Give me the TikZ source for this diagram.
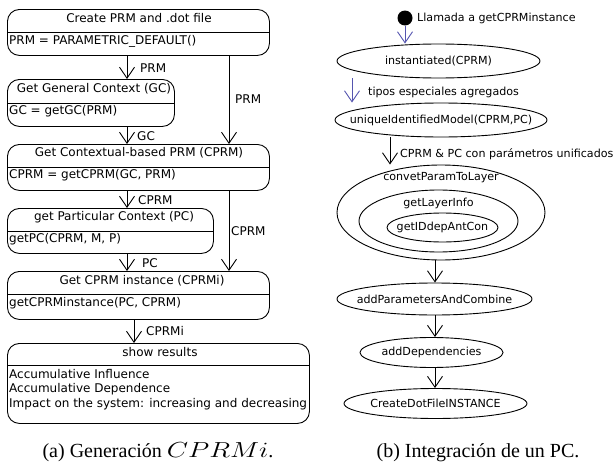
\documentclass[tikz,border=0pt]{standalone}
\usepackage{fontspec}
\setmainfont{Liberation Serif}
\newfontfamily\dv{DejaVu Sans}
\usetikzlibrary{arrows.meta,shapes.geometric}
\definecolor{blueline}{RGB}{85,85,175}
\tikzset{
  dvf/.style={font=\dv\fontsize{12}{14.5}\selectfont},
  dvr/.style={font=\dv\fontsize{11.1}{14}\selectfont},
  box/.style={draw, rounded corners=12pt, line width=0.9pt, anchor=north west, inner sep=0pt},
  lbl/.style={dvf, inner sep=0pt, anchor=west},
  rlbl/.style={dvr, inner sep=0pt, anchor=west},
  ttl/.style={dvf, inner sep=0pt},
  rttl/.style={dvr, inner sep=0pt},
  arr/.style={draw, line width=0.9pt, -{Straight Barb[length=11pt,width=15pt,line width=0.9pt]}},
  barr/.style={arr, draw=blueline},
  ell/.style={draw, ellipse, inner sep=0pt, line width=0.9pt},
  captxt/.style={font=\fontsize{20}{24}\selectfont, inner sep=0pt}
}
\begin{document}
\begin{tikzpicture}[x=1pt,y=-1pt]
\useasboundingbox (0,0) rectangle (614,463);
% ---------- left diagram ----------
\node[box, minimum width=262pt, minimum height=46pt] (b1) at (7,9) {};
\draw[line width=0.9pt] (7,32) -- (269,32);
\node[ttl] (t1) at (139,18) {Create PRM and .dot file};
\node[lbl] (s1) at (9,41) {PRM = PARAMETRIC\_DEFAULT()};

\node[box, minimum width=167pt, minimum height=47pt] (b2) at (7,79) {};
\draw[line width=0.9pt] (7,103) -- (174,103);
\node[ttl] (t2) at (94,89) {Get General Context (GC)};
\node[lbl] (s2) at (9,111) {GC = getGC(PRM)};

\node[box, minimum width=262pt, minimum height=46pt] (b3) at (7,144) {};
\draw[line width=0.9pt] (7,167) -- (269,167);
\node[ttl] (t3) at (139,153) {Get Contextual-based PRM (CPRM)};
\node[lbl] (s3) at (9,175) {CPRM = getCPRM(GC, PRM)};

\node[box, minimum width=206pt, minimum height=45pt] (b4) at (7,208) {};
\draw[line width=0.9pt] (7,231) -- (213,231);
\node[ttl] (t4) at (114,217) {get Particular Context (PC)};
\node[lbl] (s4) at (9,239) {getPC(CPRM, M, P)};

\node[box, minimum width=262pt, minimum height=48pt] (b5) at (7,271) {};
\draw[line width=0.9pt] (7,294) -- (269,294);
\node[ttl] (t5) at (142,281) {Get CPRM instance (CPRMi)};
\node[lbl] (s5) at (9,303) {getCPRMinstance(PC, CPRM)};

\node[box, minimum width=302pt, minimum height=80pt] (b6) at (7,343) {};
\draw[line width=0.9pt] (7,365) -- (309,365);
\node[ttl] (t6) at (160,352) {show results};
\node[lbl] (s6a) at (9,374) {Accumulative Influence};
\node[lbl] (s6b) at (9,389) {Accumulative Dependence};
\node[lbl] (s6c) at (9,404) {Impact on the system: increasing and decreasing};

\coordinate (xL) at (127,0);
\coordinate (xR) at (229,0);
\coordinate (xC) at (134,0);
\draw[arr] (b1.south -| xL) -- (b2.north -| xL);
\draw[arr] (b1.south -| xR) -- (b3.north -| xR);
\draw[arr] (b2.south -| xL) -- (b3.north -| xL);
\draw[arr] (b3.south -| xL) -- (b4.north -| xL);
\draw[arr] (b3.south -| xR) -- (b5.north -| xR);
\draw[arr] (b4.south -| xL) -- (b5.north -| xL);
\draw[arr] (b5.south -| xC) -- (b6.north -| xC);

\node[lbl] (l1) at (140,68) {PRM};
\node[lbl] (l2) at (235,99) {PRM};
\node[lbl] (l3) at (137,136) {GC};
\node[lbl] (l4) at (138,200) {CPRM};
\node[lbl] (l5) at (231,231) {CPRM};
\node[lbl] (l6) at (142,263) {PC};
\node[lbl] (l7) at (146,331) {CPRMi};

\node[captxt] (capa) at (158,452) {(a) Generación \scalebox{1.33}[1.05]{$CPRMi$}.};

% ---------- right diagram ----------
\node[circle, fill=black, minimum size=15pt, inner sep=0pt] (st) at (405,18) {};
\node[rlbl] (lst) at (417,18) {Llamada a getCPRMinstance};
\node[ell, minimum width=203pt, minimum height=34pt] (inst) at (438.5,61) {};
\node[rttl] (tinst) at (inst.center) {instantiated(CPRM)};
\node[ell, minimum width=212pt, minimum height=34pt] (uniq) at (441,120) {};
\node[rttl] (tuniq) at (uniq.center) {uniqueIdentifiedModel(CPRM,PC)};
\node[ell, minimum width=208pt, minimum height=95pt] (conv) at (441,212.5) {};
\node[rttl] (tconv) at (441,178) {convetParamToLayer};
\node[ell, minimum width=159pt, minimum height=62pt] (layer) at (438.5,221) {};
\node[rttl] (tlayer) at (438.5,203) {getLayerInfo};
\node[ell, minimum width=111pt, minimum height=29pt] (idd) at (442.5,227.5) {};
\node[rttl] (tidd) at (idd.center) {getIDdepAntCon};
\node[ell, minimum width=195pt, minimum height=32pt] (addp) at (434.5,299) {};
\node[rttl] (taddp) at (addp.center) {addParametersAndCombine};
\node[ell, minimum width=143pt, minimum height=30pt] (addd) at (431.5,352.5) {};
\node[rttl] (taddd) at (addd.center) {addDependencies};
\node[ell, minimum width=183pt, minimum height=30pt] (cdf) at (435.5,403.5) {};
\node[rttl] (tcdf) at (cdf.center) {CreateDotFileINSTANCE};

\coordinate (x2) at (352,0);
\coordinate (x3) at (390,0);
\coordinate (x4) at (435,0);
\draw[barr] (st.south) -- (inst.north -| st.south);
\draw[barr] (inst.south -| x2) -- (uniq.north -| x2);
\draw[arr] (uniq.south -| x3) -- (conv.north -| x3);
\draw[arr] (conv.south -| x4) -- (addp.north -| x4);
\draw[arr] (addp.south -| x4) -- (addd.north -| x4);
\draw[arr] (addd.south -| x4) -- (cdf.north -| x4);

\node[rlbl] (ltip) at (368,92) {tipos especiales agregados};
\node[rlbl] (lcp) at (400,154) {CPRM \& PC con parámetros unificados};

\node[captxt] (capb) at (478,453) {(b) Integración de un PC.};
\end{tikzpicture}
\end{document}
